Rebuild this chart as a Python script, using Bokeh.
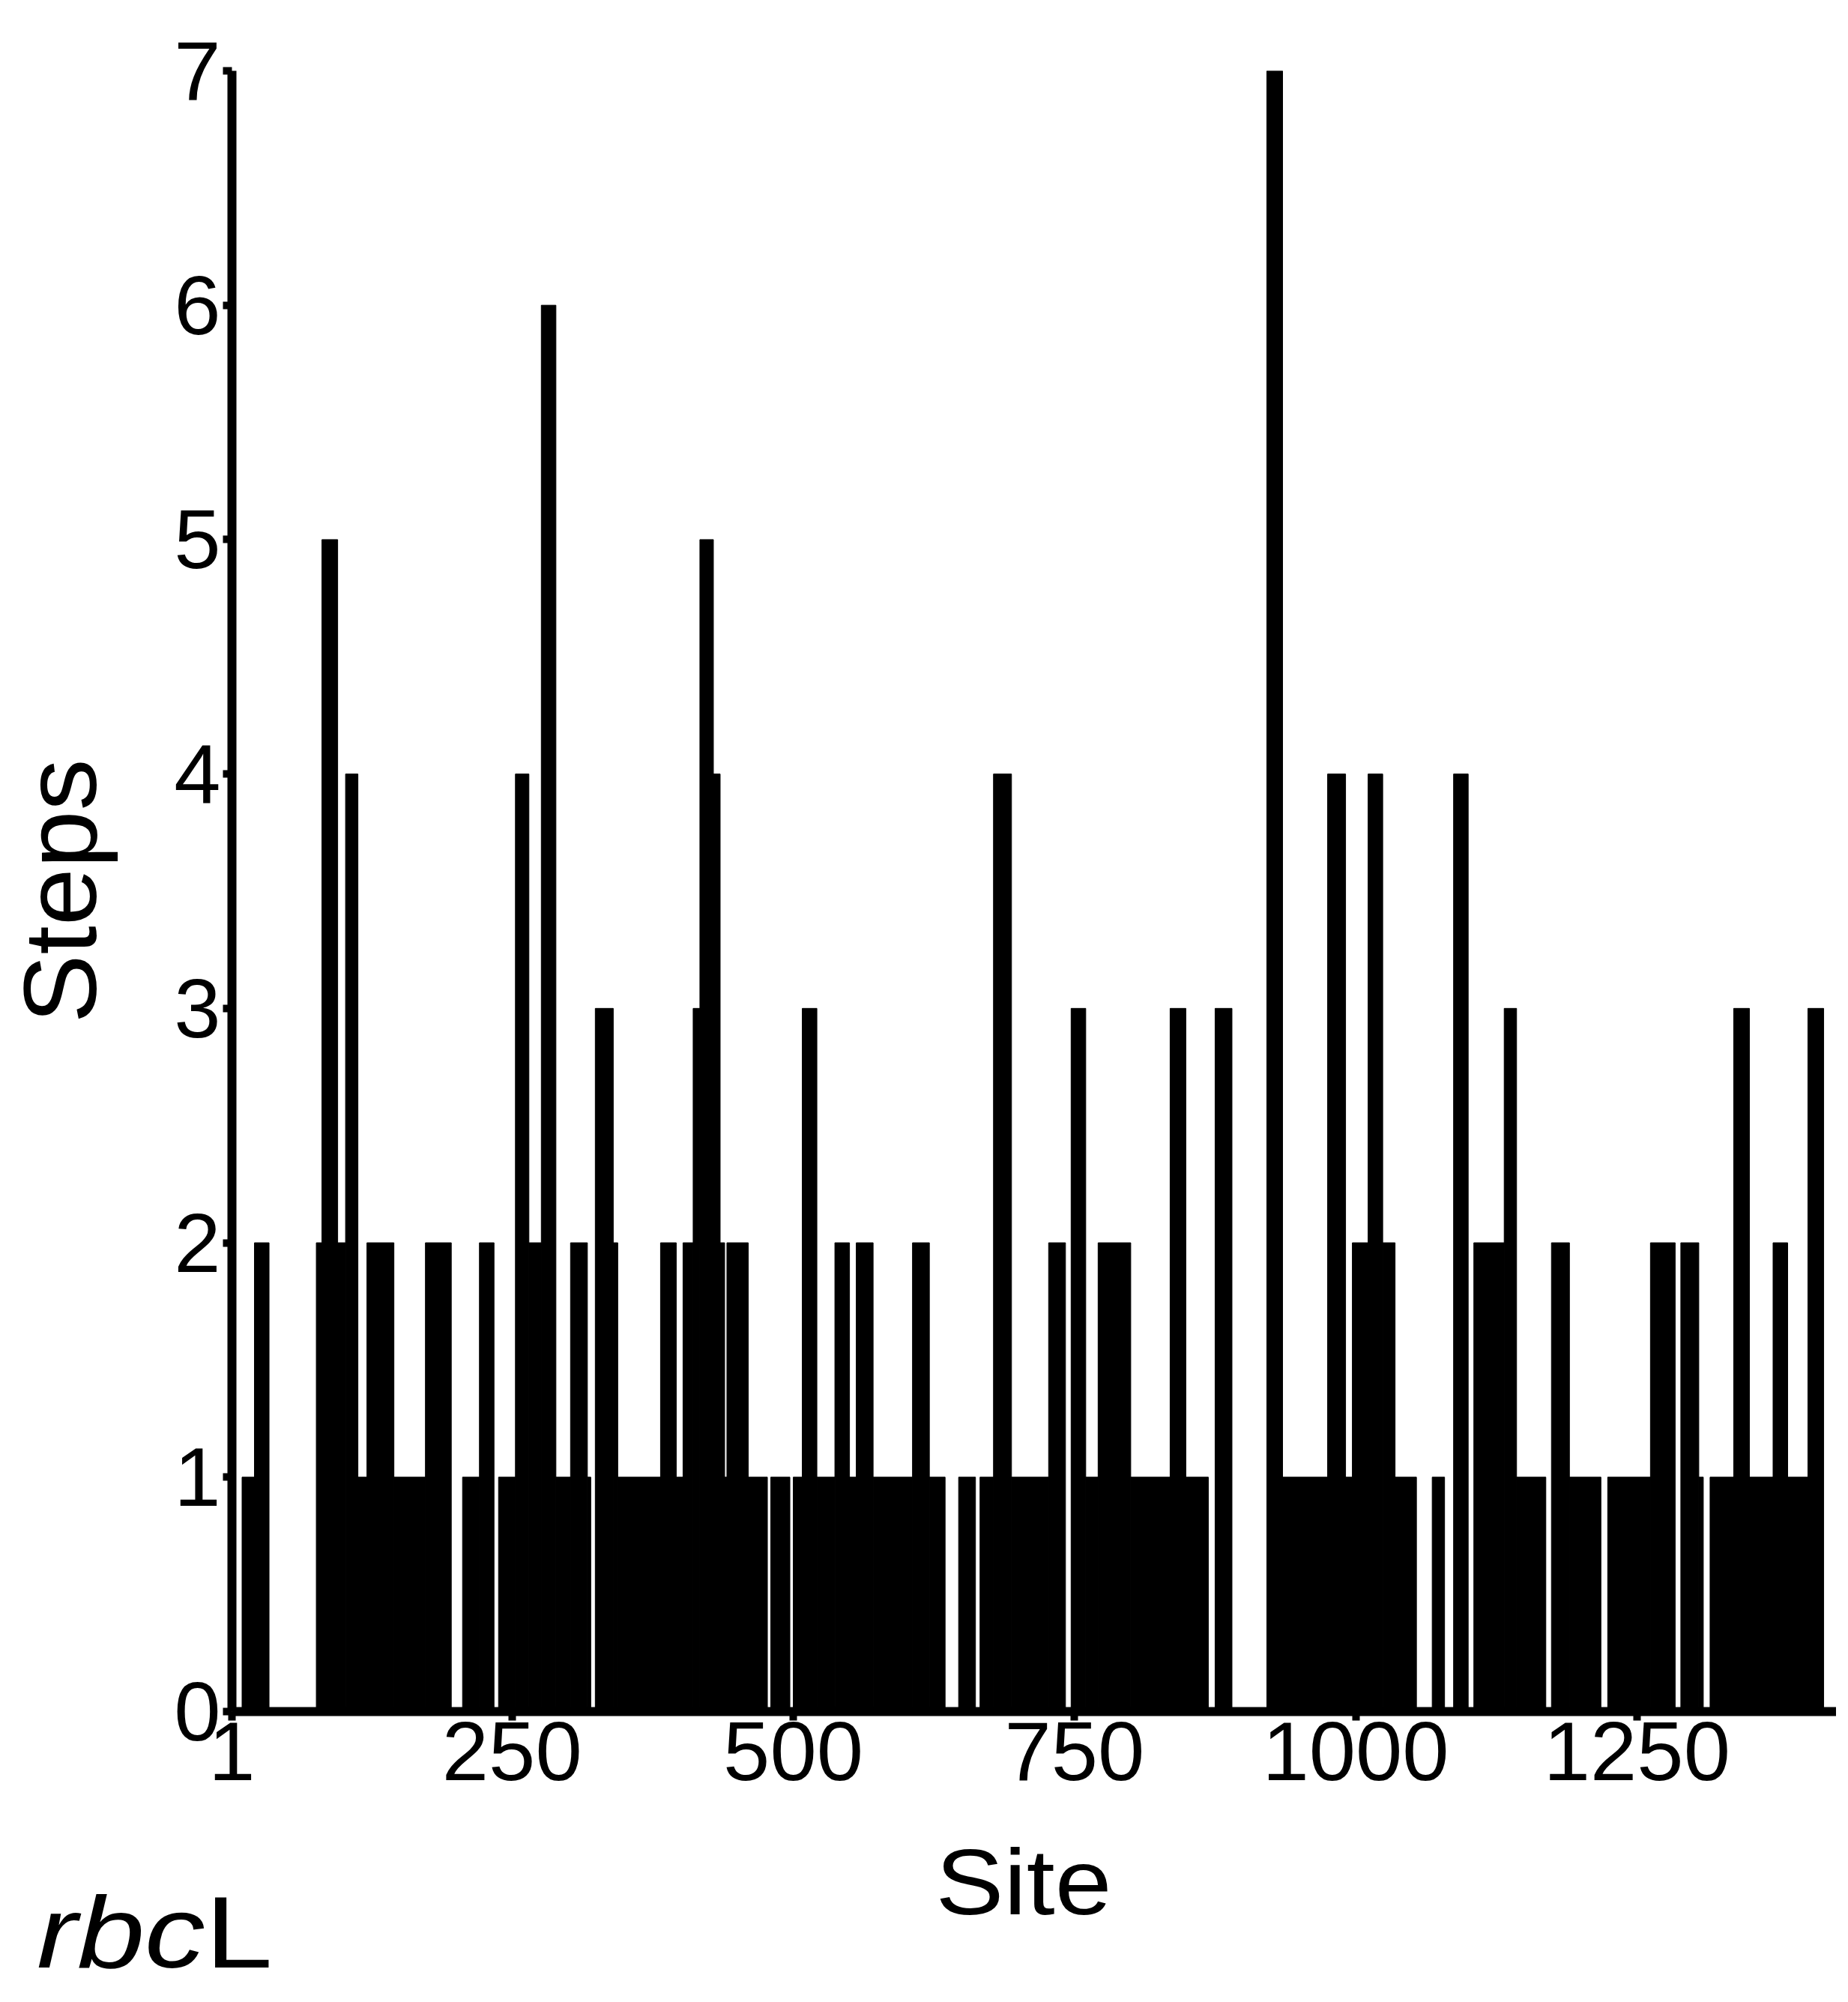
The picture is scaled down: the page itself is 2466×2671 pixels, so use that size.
from bokeh.plotting import figure
from bokeh.models import Range1d, FixedTicker, ColumnDataSource, Div
from bokeh.layouts import column
from bokeh.embed import file_html
from bokeh.resources import INLINE

# ---- data: runs of consecutive sites sharing the same number of steps ----
seg_start = [1, 10, 21, 34, 76, 81, 95, 102, 113, 121, 145, 173, 196, 206, 221, 234, 238, 253, 265, 276,
             289, 302, 317, 320, 324, 340, 344, 382, 396, 402, 411, 417, 429, 435, 439, 441, 460, 477, 480, 497,
             500, 508, 521, 537, 550, 556, 571, 606, 621, 635, 647, 662, 666, 678, 694, 727, 742, 747, 760, 771,
             800, 835, 849, 869, 875, 890, 921, 935, 975, 991, 997, 1011, 1024, 1035, 1054, 1068, 1079, 1087, 1100, 1105,
             1132, 1143, 1169, 1174, 1190, 1218, 1224, 1262, 1284, 1289, 1305, 1309, 1315, 1336, 1350, 1371, 1384, 1402]
seg_end = seg_start[1:] + [1416]
steps = [0, 1, 2, 0, 2, 5, 2, 4, 1, 2, 1, 2, 0, 1, 2, 0, 1, 4, 2, 6,
         1, 2, 1, 0, 3, 2, 1, 2, 1, 2, 3, 5, 4, 2, 1, 2, 1, 0, 1, 0,
         1, 3, 1, 2, 1, 2, 1, 2, 1, 0, 1, 0, 1, 4, 1, 2, 0, 3, 1, 2,
         1, 3, 1, 0, 3, 0, 7, 1, 4, 1, 2, 4, 2, 1, 0, 1, 0, 4, 0, 2,
         3, 1, 0, 2, 1, 0, 1, 2, 0, 2, 1, 0, 1, 3, 1, 2, 1, 3]

x_ticks = [1, 250, 500, 750, 1000, 1250]
y_ticks = [0, 1, 2, 3, 4, 5, 6, 7]
x_title = "Site"
y_title = "Steps"
gene_italic = "rbc"
gene_plain = "L"

# keep only non-empty runs for drawing
L = [s for s, v in zip(seg_start, steps) if v > 0]
R = [e for e, v in zip(seg_end, steps) if v > 0]
T = [v for v in steps if v > 0]
src = ColumnDataSource(dict(left=L, right=R, top=T, bottom=[0] * len(T)))

FONT = "Liberation Sans"
W = 2450
H1, H2 = 2433, 222
BL, BT, BB, BR = 302, 94, 150, 0
x0, x1 = 1, 1427.3
y0, y1 = 0, 7

p = figure(width=W, height=H1, output_backend="svg", toolbar_location=None,
           x_range=Range1d(x0, x1), y_range=Range1d(y0, y1),
           min_border_left=BL, min_border_top=BT, min_border_bottom=BB, min_border_right=BR,
           background_fill_color="white", border_fill_color="white")
p.outline_line_color = None
p.xgrid.visible = False
p.ygrid.visible = False

p.quad(left="left", right="right", top="top", bottom="bottom", source=src,
       fill_color="black", line_color="black", line_width=1)

for ax in (p.xaxis[0], p.yaxis[0]):
    ax.axis_line_width = 12
    ax.axis_line_color = "black"
    ax.major_tick_line_width = 10
    ax.major_tick_line_color = "black"
    ax.major_tick_out = 12
    ax.major_tick_in = 0
    ax.minor_tick_line_color = None
    ax.major_label_text_font = FONT
    ax.major_label_text_font_size = "112px"
    ax.major_label_text_color = "black"
    ax.axis_label_text_font = FONT
    ax.axis_label_text_font_style = "normal"
    ax.axis_label_text_color = "black"

p.xaxis[0].ticker = FixedTicker(ticks=x_ticks)
p.yaxis[0].ticker = FixedTicker(ticks=y_ticks)
p.yaxis[0].axis_label = y_title
p.yaxis[0].axis_label_text_font_size = "138px"
p.xaxis[0].major_label_standoff = 2
p.yaxis[0].major_label_standoff = 3
p.yaxis[0].axis_label_standoff = 72

# lower strip: x-axis title and the gene name (italic "rbc" + roman "L"), as real text
strip_html = (
    f'<div style="position:relative;width:{W}px;height:{H2}px;'
    f"font-family:'{FONT}',sans-serif;color:black;overflow:visible;\">"
    f'<span style="position:absolute;left:1166px;top:16px;width:400px;text-align:center;'
    f'font-size:124px;line-height:1;white-space:nowrap;transform:scaleX(1.1);'
    f'transform-origin:50% 50%;">{x_title}</span>'
    f'<span style="position:absolute;left:49px;top:98px;font-size:136px;line-height:0.7;'
    f'white-space:nowrap;transform:scaleX(1.19);transform-origin:0 50%;">'
    f'<i>{gene_italic}</i>{gene_plain}</span>'
    f'</div>'
)
strip = Div(text=strip_html, width=W, height=H2, styles={"overflow": "visible", "margin": "0", "padding": "0"})

layout = column(p, strip, spacing=0)
open("out.html", "w").write(file_html(layout, INLINE))
